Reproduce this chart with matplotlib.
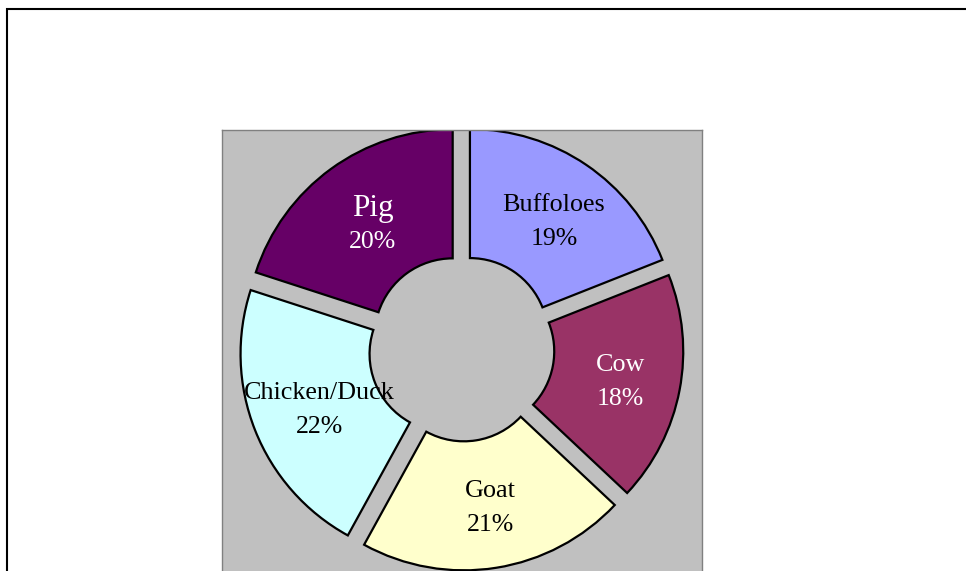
import numpy as np
import matplotlib
matplotlib.use("Agg")
import matplotlib.pyplot as plt
from matplotlib.patches import Rectangle

# Livestock share (clockwise from 12 o'clock)
categories = ["Buffoloes", "Cow", "Goat", "Chicken/Duck", "Pig"]
shares = [19, 18, 21, 22, 20]
colors = ["#9999FF", "#993366", "#FFFFCC", "#CCFFFF", "#660066"]
text_colors = ["black", "white", "black", "black", "white"]
name_sizes = [18.8, 18.8, 18.8, 18.8, 22.5]
pct_size = 18.5

W, H = 966, 571
fig = plt.figure(figsize=(W / 100, H / 100), dpi=100)
fig.patch.set_facecolor("white")

# outer chart frame
fig.patches.append(Rectangle((6.5 / W, -0.05), 1.2, 1 - 9.5 / H + 0.05,
                             transform=fig.transFigure, fill=False,
                             edgecolor="black", linewidth=1.5))

# grey plot area (square, runs off the bottom of the figure)
px_l, px_t, side = 222, 130, 480
ax = fig.add_axes([px_l / W, (H - (px_t + side)) / H, side / W, side / H])
ax.set_facecolor("#C0C0C0")
for s in ax.spines.values():
    s.set_edgecolor("#808080")
    s.set_linewidth(1.0)

R = 207.0
r_in = 78.0
cx, cy = 461.5 - px_l, px_t + side - 348.5
offset = 15.0  # explosion distance of every segment (data units)

wedges, _ = ax.pie(shares, colors=colors, startangle=90, counterclock=False,
                   radius=R, center=(cx, cy),
                   explode=[offset] * len(shares),
                   wedgeprops=dict(width=R - r_in, edgecolor="black",
                                   linewidth=1.6),
                   frame=True)
for w in wedges:
    w.set_clip_on(True)
ax.set_xlim(0, side)
ax.set_ylim(0, side)
ax.set_aspect("equal")
ax.set_xticks([])
ax.set_yticks([])

# labels at the middle of each ring segment
total = float(sum(shares))
start = 90.0
label_r = (R + r_in) / 2
shift_x, shift_y = 4, -4
for name, val, tc, ns in zip(categories, shares, text_colors, name_sizes):
    span = 360.0 * val / total
    mid = np.deg2rad(start - span / 2)
    start -= span
    ox = cx + (offset + label_r) * np.cos(mid) + shift_x
    oy = cy + (offset + label_r) * np.sin(mid) + shift_y
    ax.text(ox, oy + 17, name, ha="center", va="center", color=tc,
            fontsize=ns, family="Liberation Serif", zorder=5)
    ax.text(ox, oy - 17, f"{val}%", ha="center", va="center", color=tc,
            fontsize=pct_size, family="Liberation Serif", zorder=5)

fig.savefig("out.png", dpi=100, facecolor="white")
